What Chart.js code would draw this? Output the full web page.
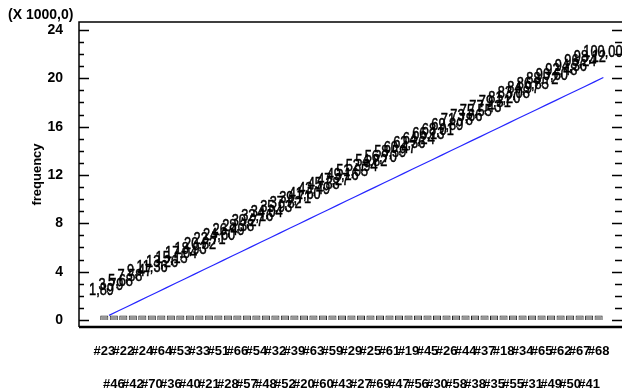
<!DOCTYPE html>
<html>
<head>
<meta charset="utf-8">
<script src="https://cdn.jsdelivr.net/npm/chart.js@4.4.1/dist/chart.umd.min.js"></script>
<style>
  body { margin: 0; background: #fff; }
  canvas { display: block; }
</style>
</head>
<body>
<canvas id="pareto" width="622" height="392"></canvas>
<script>
// categories in pareto order (sorted by frequency)
var categories = ['#23','#46','#22','#42','#24','#70','#64','#36','#53','#40','#33','#21','#51','#28',
    '#66','#57','#54','#48','#32','#52','#39','#20','#63','#60','#59','#43','#29','#27','#25','#69',
    '#61','#47','#19','#56','#45','#30','#26','#58','#44','#38','#37','#35','#18','#55','#34','#31',
    '#65','#49','#62','#50','#67','#41','#68'];

var frequencies = [380,380,380,380,380,380,380,380,
    379,379,379,379,379,379,379,379,379,379,379,379,379,379,379,379,379,379,379,379,
    378,378,378,378,378,378,378,378,378,378,378,378,378,378,378,378,378,
    377,377,377,377,377,377,377,377];

// y axis: minor tick every 1000, label every 4000 (shown in thousands)
var yTickValues = [0,1000,2000,3000,4000,5000,6000,7000,8000,9000,10000,11000,12000,
    13000,14000,15000,16000,17000,18000,19000,20000,21000,22000,23000,24000];
var yLabelStep = 4000;

// cumulative counts and percentages
var cumulative = [];
var total = 0;
for (let i = 0; i < frequencies.length; i++) {
    total += frequencies[i];
    cumulative.push(total);
}
var cumPercent = cumulative.map(c => c / total * 100);

const BLACK = '#000';

var framePlugin = {
    id: 'frame',
    afterDatasetsDraw(chart) {
        const ctx = chart.ctx;
        const meta = chart.getDatasetMeta(0);
        ctx.save();
        ctx.fillStyle = BLACK;
        ctx.font = '16px "Liberation Sans", Arial, sans-serif';
        ctx.textAlign = 'left';
        ctx.textBaseline = 'middle';
        ctx.strokeStyle = BLACK;
        ctx.lineWidth = 0.5;
        meta.data.forEach((pt, i) => {
            const txt = cumPercent[i].toFixed(2).replace('.', ',');
            ctx.save();
            ctx.translate(pt.x - 20, pt.y - 25);
            ctx.scale(0.8, 1);   // narrow face
            ctx.fillText(txt, 0, 0);
            ctx.strokeText(txt, 0, 0);
            ctx.restore();
        });
        ctx.restore();
    },
    afterDraw(chart) {
        const ctx = chart.ctx;
        const a = chart.chartArea;
        const y = chart.scales.y;
        ctx.save();
        ctx.strokeStyle = BLACK;
        ctx.lineWidth = 1.5;
        ctx.beginPath();
        ctx.moveTo(a.left, a.bottom);
        ctx.lineTo(a.left, a.top);
        ctx.lineTo(a.right, a.top);
        ctx.stroke();
        ctx.lineWidth = 2.5;
        ctx.beginPath();
        ctx.moveTo(a.left, a.bottom);
        ctx.lineTo(a.right, a.bottom);
        ctx.stroke();

        ctx.lineWidth = 1.5;
        y.ticks.forEach(t => {
            const py = Math.round(y.getPixelForValue(t.value)) + 0.5;
            const major = t.value % yLabelStep === 0;
            ctx.beginPath();
            ctx.moveTo(a.left, py);
            ctx.lineTo(a.left + (major ? 10 : 5), py);
            ctx.moveTo(a.right, py);
            ctx.lineTo(a.right - (major ? 10 : 7), py);
            ctx.stroke();
        });

        ctx.fillStyle = BLACK;
        ctx.font = 'bold 14px "Liberation Sans", Arial, sans-serif';
        ctx.textAlign = 'left';
        ctx.textBaseline = 'alphabetic';
        ctx.fillText('(X 1000,0)', 8, 19);
        ctx.restore();
    }
};

new Chart(document.getElementById('pareto'), {
    type: 'bar',
    data: {
        datasets: [{
            type: 'line',
            data: cumulative.map((c, i) => ({ x: i + 0.5, y: c })),
            borderColor: '#2626ff',
            borderWidth: 1.2,
            pointRadius: 0,
            tension: 0,
            order: 0
        }, {
            type: 'bar',
            data: frequencies.map((v, i) => ({ x: i, y: v })),
            backgroundColor: '#979797',
            borderColor: '#202020',
            borderWidth: 1,
            barPercentage: 0.85,
            categoryPercentage: 1,
            order: 1
        }]
    },
    options: {
        responsive: false,
        animation: false,
        layout: { padding: { left: 30, top: 22, right: 0, bottom: 0 } },
        plugins: { legend: { display: false }, tooltip: { enabled: false } },
        scales: {
            x: {
                type: 'linear',
                min: -2.15,
                max: 53.95,
                afterFit: s => { s.height = 65; },
                grid: { display: false },
                border: { display: false },
                ticks: {
                    stepSize: 1,
                    autoSkip: false,
                    includeBounds: false,
                    maxRotation: 0,
                    minRotation: 0,
                    padding: -0.5,
                    color: BLACK,
                    font: { family: '"Liberation Sans", Arial, sans-serif', weight: 'bold', size: 13, lineHeight: '33px' },
                    callback: v => {
                        if (!Number.isInteger(v) || v < 0 || v >= categories.length) return '';
                        return v % 2 === 0 ? categories[v] : ['', categories[v]];
                    }
                }
            },
            y: {
                min: -580,
                max: 24660,
                afterFit: s => { s.width = 49; },
                afterBuildTicks: s => { s.ticks = yTickValues.map(v => ({ value: v })); },
                grid: { display: false },
                border: { display: false },
                title: {
                    display: true,
                    text: 'frequency',
                    color: BLACK,
                    padding: 0,
                    font: { family: '"Liberation Sans", Arial, sans-serif', weight: 'bold', size: 13 }
                },
                ticks: {
                    autoSkip: false,
                    padding: 8,
                    color: BLACK,
                    font: { family: '"Liberation Sans", Arial, sans-serif', weight: 'bold', size: 14, lineHeight: 1 },
                    callback: v => v % yLabelStep === 0 ? String(v / 1000) : ''
                }
            }
        }
    },
    plugins: [framePlugin]
});
</script>
</body>
</html>
